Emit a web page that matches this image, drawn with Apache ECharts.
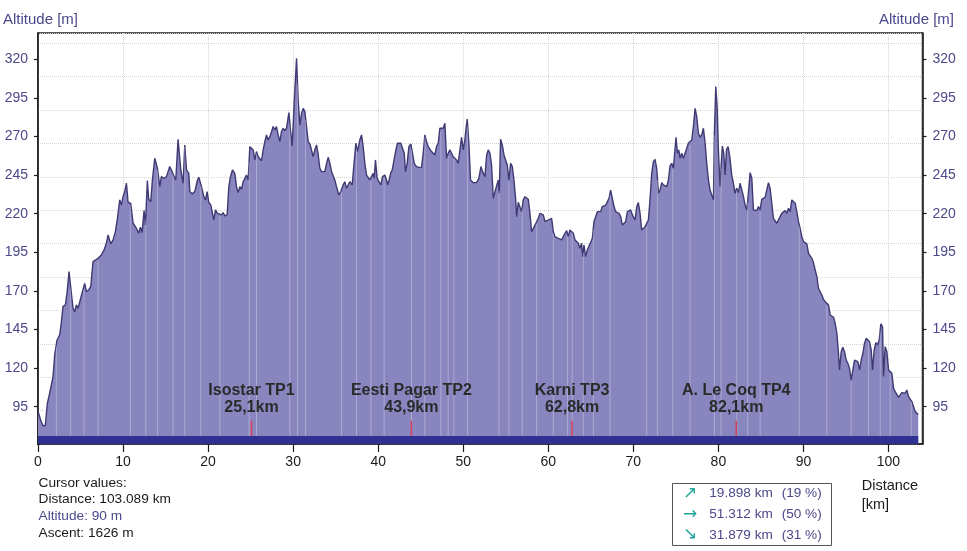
<!DOCTYPE html>
<html><head><meta charset="utf-8">
<script src="https://cdn.jsdelivr.net/npm/echarts@6/dist/echarts.min.js"></script>
<style>html,body{margin:0;padding:0;background:#fff}#c{width:967px;height:551px}</style>
</head><body><div id="c"></div>
<script>
// ---- data ----
const distanceKm = [
0, 0.3, 0.59, 0.86, 1.1, 1.37, 1.57, 1.77, 1.96, 2.24,
2.55, 2.75, 2.94, 3.22, 3.41, 3.65, 3.84, 4.12, 4.32, 4.51,
4.71, 5.02, 5.22, 5.49, 5.69, 5.96, 6.2, 6.47, 6.75, 7.06,
7.26, 7.45, 7.77, 8.04, 8.24, 8.55, 8.83, 9.1, 9.34, 9.61,
9.8, 10.0, 10.2, 10.4, 10.59, 10.9, 11.18, 11.57, 11.84, 12.04,
12.24, 12.47, 12.63, 12.86, 13.02, 13.26, 13.45, 13.73, 14.04, 14.32,
14.51, 14.83, 15.1, 15.3, 15.49, 15.77, 16.0, 16.2, 16.47, 16.79,
17.06, 17.26, 17.46, 17.73, 17.85, 18.12, 18.44, 18.75, 18.91, 19.22,
19.5, 19.69, 19.89, 20.08, 20.32, 20.51, 20.67, 20.87, 21.1, 21.3,
21.57, 21.77, 21.97, 22.24, 22.44, 22.63, 22.87, 23.14, 23.34, 23.53,
23.73, 23.93, 24.12, 24.32, 24.51, 24.71, 24.91, 25.1, 25.3, 25.5,
25.69, 25.89, 26.08, 26.28, 26.48, 26.67, 26.87, 27.06, 27.26, 27.46,
27.65, 27.85, 28.04, 28.24, 28.44, 28.63, 28.83, 29.02, 29.22, 29.5,
29.73, 29.89, 30.12, 30.4, 30.59, 30.79, 30.99, 31.18, 31.38, 31.57,
31.77, 31.97, 32.16, 32.36, 32.55, 32.75, 32.95, 33.14, 33.34, 33.53,
33.73, 33.93, 34.12, 34.32, 34.52, 34.9, 35.1, 35.37, 35.6, 35.88,
36.08, 36.27, 36.47, 36.66, 36.94, 37.17, 37.37, 37.57, 37.84, 38.04,
38.23, 38.43, 38.63, 38.82, 39.02, 39.21, 39.41, 39.53, 39.68, 39.88,
40.08, 40.31, 40.51, 40.78, 40.98, 41.1, 41.29, 41.49, 41.65, 41.88,
42.08, 42.27, 42.47, 42.66, 42.86, 43.06, 43.21, 43.41, 43.61, 43.84,
44.04, 44.23, 44.51, 44.78, 45.1, 45.29, 45.49, 45.68, 45.88, 46.08,
46.27, 46.47, 46.66, 46.86, 47.06, 47.25, 47.45, 47.65, 47.84, 48.04,
48.23, 48.43, 48.63, 48.82, 49.02, 49.21, 49.41, 49.61, 49.8, 50.0,
50.19, 50.31, 50.47, 50.66, 50.86, 51.17, 51.57, 51.84, 52.08, 52.27,
52.55, 52.75, 52.94, 53.14, 53.33, 53.53, 53.73, 53.92, 54.12, 54.24,
54.39, 54.59, 54.79, 54.98, 55.18, 55.37, 55.57, 55.77, 55.96, 56.16,
56.28, 56.47, 56.67, 56.86, 57.06, 57.25, 57.45, 57.65, 57.84, 58.04,
58.24, 58.43, 58.63, 58.82, 59.02, 59.22, 59.41, 59.61, 59.8, 60.0,
60.2, 60.39, 60.59, 60.78, 60.98, 61.18, 61.37, 61.57, 61.77, 61.96,
62.16, 62.35, 62.55, 62.75, 62.94, 63.14, 63.33, 63.53, 63.73, 63.92,
64.04, 64.2, 64.39, 64.59, 64.78, 65.02, 65.18, 65.37, 65.57, 65.77,
65.96, 66.16, 66.35, 66.55, 66.75, 66.94, 67.14, 67.33, 67.53, 67.73,
67.92, 68.12, 68.31, 68.51, 68.71, 68.9, 69.1, 69.3, 69.49, 69.69,
69.88, 70.2, 70.4, 70.59, 70.79, 70.98, 71.18, 71.38, 71.57, 71.77,
71.96, 72.16, 72.36, 72.55, 72.75, 72.95, 73.14, 73.34, 73.53, 73.73,
73.93, 74.12, 74.32, 74.51, 74.71, 74.91, 75.02, 75.18, 75.34, 75.49,
75.69, 75.89, 76.08, 76.28, 76.47, 76.67, 76.87, 77.06, 77.26, 77.45,
77.65, 77.85, 78.04, 78.24, 78.44, 78.63, 78.83, 79.02, 79.22, 79.42,
79.53, 79.69, 79.85, 80.0, 80.2, 80.32, 80.47, 80.63, 80.79, 80.95,
81.14, 81.34, 81.57, 81.77, 81.96, 82.16, 82.36, 82.55, 82.75, 82.95,
83.14, 83.34, 83.53, 83.73, 83.93, 84.12, 84.32, 84.51, 84.71, 84.91,
85.1, 85.3, 85.49, 85.69, 85.89, 86.08, 86.28, 86.47, 86.67, 86.87,
87.06, 87.26, 87.45, 87.65, 87.85, 88.05, 88.24, 88.44, 88.63, 88.83,
89.03, 89.22, 89.42, 89.61, 89.81, 90.01, 90.2, 90.4, 90.6, 90.79,
90.99, 91.18, 91.38, 91.58, 91.77, 91.97, 92.16, 92.36, 92.56, 92.75,
92.95, 93.14, 93.34, 93.54, 93.73, 93.93, 94.12, 94.24, 94.44, 94.63,
94.83, 95.03, 95.22, 95.42, 95.61, 95.81, 96.01, 96.2, 96.4, 96.6,
96.79, 96.99, 97.18, 97.38, 97.58, 97.77, 97.97, 98.12, 98.32, 98.52,
98.71, 98.91, 99.1, 99.3, 99.42, 99.61, 99.81, 100.01, 100.2, 100.4,
100.6, 100.79, 100.99, 101.18, 101.38, 101.58, 101.77, 101.97, 102.16, 102.36,
102.56, 102.75, 102.95, 103.14, 103.34, 103.5
];
const altitudeM = [
92, 86.5, 82.5, 83, 97.2, 103.7, 104.7, 114.5, 128.5, 138.2,
141.4, 150, 159.8, 160.9, 168.4, 182.5, 172.7, 158.7, 156.5, 160.9,
158.7, 165.2, 166.3, 174.9, 169.5, 170.6, 172.7, 188.9, 190, 191.1,
190, 193.3, 196.5, 200.8, 206.2, 200.4, 203, 208.4, 217, 228.9,
225.6, 231, 234.3, 239.7, 227.4, 226.7, 213.8, 210.5, 207.3, 211.2,
207.7, 222, 212.7, 241.4, 229.3, 227.8, 241.8, 255.9, 249.4, 237.5,
244, 242.9, 244, 243.6, 250.5, 247.2, 246.1, 241.8, 268.2, 248.3,
239.7, 264.5, 248.3, 246.1, 234.3, 232.8, 234.3, 241.8, 243.6, 237.5,
231, 228.9, 234.3, 227.2, 225.6, 226.7, 215.9, 222.4, 220.2, 220.2,
219.2, 220.7, 218.5, 219.2, 237.5, 244, 248.3, 246.1, 237.5, 233.6,
237.5, 235.8, 240.7, 240.1, 245, 241.8, 263.4, 264.5, 261.3, 254.8,
260.2, 256.9, 258, 254.3, 261.3, 266.7, 271, 267.7, 269.9, 273.1,
276.4, 274.2, 276.4, 271, 266.7, 273.1, 275.3, 273.8, 275.3, 285.4,
272.1, 263.8, 291.5, 320.6, 293.6, 277.4, 285, 288.2, 286.1, 276.4,
266.7, 265.1, 264.5, 256.9, 261.3, 264.5, 258, 249.4, 247.2, 248.3,
247.2, 252.6, 256.5, 252.6, 247.2, 241.8, 237.5, 232.1, 234.3, 238.6,
240.7, 236.4, 238.6, 240.7, 238.6, 239.7, 265.6, 260.2, 267.7, 271,
263.4, 252.6, 245, 244, 241.8, 244, 246.1, 242.9, 254.8, 242.9,
240.7, 238.6, 244, 245, 241.8, 238.6, 241.8, 246.6, 248.3, 249.4,
261.3, 265.6, 266.7, 265.6, 266.7, 259.1, 247.2, 252.6, 263.4, 265.1,
259.1, 252.6, 250.5, 250, 250, 259.1, 271, 266.7, 263.4, 263,
260.2, 261.3, 258, 263.4, 265.6, 275.3, 274.2, 275.3, 278.5, 255.9,
259.1, 261.3, 259.1, 256.9, 256.9, 254.8, 252.6, 251.5, 269.5, 261.3,
267.7, 274.2, 281.3, 265.6, 241.8, 240.1, 240.1, 242.9, 250.5, 247.2,
244, 258, 261.3, 259.1, 251.5, 229.9, 234.3, 235.3, 241.8, 233.2,
268.2, 264.5, 258, 254.8, 251.5, 241.8, 252.6, 250.5, 241.8, 229.9,
218, 227.4, 226.7, 221.3, 228.9, 231, 232.1, 229.3, 220.2, 208.4,
210.5, 211.6, 214.8, 217, 220.2, 220.7, 219.2, 214.8, 214.2, 215.9,
214.8, 217, 208.4, 205.1, 204.7, 204, 204, 203, 203.4, 207.3,
209, 205.1, 209.4, 209.9, 207.3, 203, 201.9, 200.8, 197.6, 200.8,
192.2, 199.7, 192.2, 196.5, 196.9, 201.9, 204, 214.8, 215.9, 221.3,
220.2, 221.3, 224.6, 223.5, 225.6, 224.6, 229.9, 235.3, 229.9, 224.6,
221.3, 221.3, 220.2, 218.1, 212.7, 213.8, 214.8, 221.3, 220.2, 222.4,
219.2, 215.9, 224.6, 227.2, 220.2, 209.4, 210.5, 211.6, 212.7, 215.9,
228.9, 246.1, 253.7, 255.2, 249.4, 233.2, 235.3, 240.1, 238.6, 239.7,
237.5, 241.8, 250.9, 252.6, 249.4, 249.4, 269.5, 259.1, 261.3, 255.9,
259.1, 255.9, 259.1, 262.3, 265.6, 265.6, 267.7, 276.4, 288.2, 282.8,
272.1, 269.5, 271, 275.3, 265.6, 252.6, 241.8, 235.3, 232.1, 228.9,
272.1, 302.3, 289.3, 261.3, 237.5, 250.5, 263.8, 259.1, 245, 261.3,
263.4, 256.9, 245, 239.7, 233.2, 236.4, 233.6, 239.7, 239.7, 231,
225.6, 222.4, 233.2, 246.6, 242.9, 222.4, 222.4, 222, 224.6, 222.4,
229.3, 228.4, 230.6, 231, 240.1, 236.4, 226.7, 217, 215.9, 213.8,
214.8, 218.1, 220.2, 219.2, 222, 220.2, 223.5, 221.3, 228.9, 229.3,
226.7, 221.3, 214.8, 210.5, 205.1, 201.9, 201.9, 200.4, 194.3, 193.9,
191.1, 188.3, 183.5, 179.2, 171.7, 170.6, 167.3, 164.5, 163, 161.9,
160.9, 154.4, 153.3, 152.9, 149, 142.5, 129.6, 118.8, 130.6, 133.5,
130.6, 125.2, 123.1, 119.8, 112.3, 111.2, 125.2, 126.3, 124.2, 118.8,
125.2, 129.6, 136, 139.3, 139.3, 137.1, 131.7, 118.8, 131.7, 136.5,
135, 138.2, 148.6, 146.8, 114.5, 133.9, 130.6, 118.8, 117.7, 116.6,
106.9, 104.7, 103.7, 101.1, 102.6, 104.1, 104.7, 103.7, 105.8, 101.5,
101.9, 98.3, 95, 91.8, 90.7, 90
];
const altitudeTicks = [95, 120, 145, 170, 195, 220, 245, 270, 295, 320];
const waypointKm = [25.1, 43.9, 62.8, 82.1];
const waypointNames = ['Isostar TP1', 'Eesti Pagar TP2', 'Karni TP3', 'A. Le Coq TP4'];
const waypointLabels = ['25,1km', '43,9km', '62,8km', '82,1km'];
const segmentBreaksKm = [2.16, 3.84, 5.41, 7.06, 10.86, 12.67, 14.04, 15.88, 17.26, 19.14, 21.38, 24.83, 25.69,
  29.61, 30.51, 31.46, 35.68, 37.45, 39.14, 40.7, 43.92, 45.49, 47.37, 48.23, 48.9, 50.51,
  54.2, 55.37, 56.94, 58.63, 60.59, 62.27, 62.82, 64.12, 65.3, 67.26, 71.57, 72.83, 74.63,
  76.67, 79.53, 80.32, 82.16, 83.45, 84.91, 89.5, 92.75, 95.61, 97.65, 99.03, 100.2, 102.67];
const cursorLines = ['Cursor values:', 'Distance: 103.089 km', 'Altitude: 90 m', 'Ascent: 1626 m'];
const gradeArrows = ['\u2197', '\u2192', '\u2198'];
const gradeDistances = ['19.898 km', '51.312 km', '31.879 km'];
const gradeShares = ['(19 %)', '(50 %)', '(31 %)'];

// ---- axis ranges ----
const Y_MIN = 70.84, Y_MAX = 337.0, X_MAX = 104;
const FONT = '"Liberation Sans", Arial, "DejaVu Sans", sans-serif';
const PURPLE = '#4c4889';
const INK = '#1a1a1a';

function altAt(km) {
  for (let i = 1; i < distanceKm.length; i++) {
    if (distanceKm[i] >= km) {
      const t = (km - distanceKm[i - 1]) / (distanceKm[i] - distanceKm[i - 1]);
      return altitudeM[i - 1] + t * (altitudeM[i] - altitudeM[i - 1]);
    }
  }
  return altitudeM[altitudeM.length - 1];
}

const profile = distanceKm.map((d, i) => [d, altitudeM[i]]);
const endKm = distanceKm[distanceKm.length - 1];

const chart = echarts.init(document.getElementById('c'), null, {renderer: 'canvas'});

const yCommon = {
  type: 'value', min: Y_MIN, max: Y_MAX,
  axisLine: {show: true, lineStyle: {color: INK, width: 1.5}},
  axisTick: {show: true, length: 4, lineStyle: {color: INK, width: 1.2}, customValues: altitudeTicks},
  axisLabel: {show: true, color: PURPLE, fontSize: 14, fontFamily: FONT, margin: 10, customValues: altitudeTicks},
  splitLine: {show: false}
};

const graphics = [];
graphics.push({type: 'text', x: 3, y: 19.8, style: {text: 'Altitude [m]', fill: PURPLE, fontSize: 15, fontFamily: FONT, align: 'left', verticalAlign: 'middle'}});
graphics.push({type: 'text', x: 954, y: 19.8, style: {text: 'Altitude [m]', fill: PURPLE, fontSize: 15, fontFamily: FONT, align: 'right', verticalAlign: 'middle'}});
const cursorMid = [483.6, 499.6, 516.3, 533];
cursorLines.forEach((t, i) => {
  graphics.push({type: 'text', x: 38.5, y: cursorMid[i], style: {text: t, fill: i === 2 ? PURPLE : INK, fontSize: 13.7, fontFamily: FONT, align: 'left', verticalAlign: 'middle'}});
});
graphics.push({type: 'text', x: 861.7, y: 486, style: {text: 'Distance', fill: INK, fontSize: 14.5, fontFamily: FONT, align: 'left', verticalAlign: 'middle'}});
graphics.push({type: 'text', x: 861.7, y: 505, style: {text: '[km]', fill: INK, fontSize: 14.5, fontFamily: FONT, align: 'left', verticalAlign: 'middle'}});
graphics.push({type: 'rect', shape: {x: 672.5, y: 483.5, width: 159, height: 62}, style: {fill: 'none', stroke: '#555', lineWidth: 1}});
const rowMid = [493.6, 514.2, 534.8];
gradeArrows.forEach((a, i) => {
  graphics.push({type: 'text', x: 690, y: rowMid[i], style: {text: a, fill: '#1fa69b', fontSize: 17, fontFamily: '"DejaVu Sans", sans-serif', align: 'center', verticalAlign: 'middle'}});
  graphics.push({type: 'text', x: 709.3, y: rowMid[i], style: {text: gradeDistances[i], fill: PURPLE, fontSize: 13.6, fontFamily: FONT, align: 'left', verticalAlign: 'middle'}});
  graphics.push({type: 'text', x: 781.7, y: rowMid[i], style: {text: gradeShares[i], fill: PURPLE, fontSize: 13.6, fontFamily: FONT, align: 'left', verticalAlign: 'middle'}});
});

chart.setOption({
  animation: false,
  backgroundColor: '#fff',
  grid: {left: 38, right: 44.5, top: 33, bottom: 107, show: true, borderColor: INK, borderWidth: 1.5, backgroundColor: 'transparent'},
  xAxis: {
    type: 'value', min: 0, max: X_MAX, interval: 10,
    axisLine: {show: true, onZero: false, lineStyle: {color: INK, width: 1.5}},
    axisTick: {show: true, length: 8, lineStyle: {color: INK, width: 1.2}},
    axisLabel: {color: INK, fontSize: 14, fontFamily: FONT, margin: 11, showMaxLabel: false},
    splitLine: {show: true, lineStyle: {color: '#d4d4d4', type: 'dotted', width: 1}}
  },
  yAxis: [
    Object.assign({position: 'left'}, yCommon),
    Object.assign({position: 'right'}, yCommon),
    {type: 'value', min: 0, max: 411 / 33.4, interval: 1, position: 'left',
     axisLine: {show: false}, axisTick: {show: false}, axisLabel: {show: false},
     splitLine: {show: true, lineStyle: {color: '#d4d4d4', type: 'dotted', width: 1}}}
  ],
  series: [
    {
      type: 'line', data: profile, xAxisIndex: 0, yAxisIndex: 0,
      showSymbol: false, symbol: 'none', smooth: false,
      lineStyle: {color: '#3f3a72', width: 1.4},
      areaStyle: {color: '#8985bf', opacity: 1, origin: 'start'},
      z: 2
    },
    {
      type: 'custom', xAxisIndex: 0, yAxisIndex: 0, z: 3,
      data: segmentBreaksKm.map(k => [k, altAt(k)]),
      renderItem: (params, api) => {
        const p0 = api.coord([api.value(0), Y_MIN]);
        const p1 = api.coord([api.value(0), api.value(1)]);
        return {type: 'line', shape: {x1: p0[0], y1: p0[1], x2: p1[0], y2: p1[1] + 2},
          style: {stroke: 'rgba(255,255,255,0.3)', lineWidth: 1}};
      }
    },
    {
      type: 'custom', xAxisIndex: 0, yAxisIndex: 0, z: 4,
      data: [[0, endKm]],
      renderItem: (params, api) => {
        const p0 = api.coord([api.value(0), Y_MIN]);
        const p1 = api.coord([api.value(1), Y_MIN]);
        return {type: 'rect', shape: {x: p0[0], y: p0[1] - 8, width: p1[0] - p0[0], height: 8},
          style: {fill: '#2e3192'}};
      }
    },
    {
      type: 'custom', xAxisIndex: 0, yAxisIndex: 0, z: 5, clip: false,
      data: waypointKm.map(k => [k, Y_MIN]),
      renderItem: (params, api) => {
        const p = api.coord([api.value(0), api.value(1)]);
        const i = params.dataIndex;
        return {type: 'group', children: [
          {type: 'line', shape: {x1: p[0], y1: p[1] - 8, x2: p[0], y2: p[1] - 23.3}, style: {stroke: '#d8425a', lineWidth: 1.5}},
          {type: 'text', style: {x: p[0], y: p[1] - 53.6, text: waypointNames[i], fill: '#2a2a2a', fontSize: 16, fontWeight: 'bold', fontFamily: FONT, align: 'center', verticalAlign: 'middle'}},
          {type: 'text', style: {x: p[0], y: p[1] - 36.6, text: waypointLabels[i], fill: '#2a2a2a', fontSize: 16, fontWeight: 'bold', fontFamily: FONT, align: 'center', verticalAlign: 'middle'}}
        ]};
      }
    }
  ],
  graphic: graphics
});
</script>
</body></html>
